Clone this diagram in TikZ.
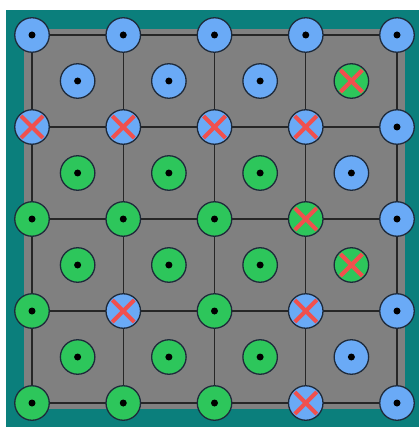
\documentclass[tikz,border=0pt]{standalone}
\usetikzlibrary{calc}
\definecolor{tealbg}{HTML}{0B7F7C}
\definecolor{graysq}{HTML}{808080}
\definecolor{bluec}{HTML}{6AAAF6}
\definecolor{greenc}{HTML}{2DC65B}
\definecolor{redx}{HTML}{F0504E}
\definecolor{outl}{HTML}{1E2A3A}
\tikzset{
  pt/.style={circle, draw=outl, line width=1.3pt, minimum size=34.5pt, inner sep=0pt},
  bluept/.style={pt, fill=bluec},
  greenpt/.style={pt, fill=greenc},
  gridline/.style={draw=black!85, line width=1.4pt},
  xmark/.style={draw=redx, line width=4.2pt},
  dotmark/.style={fill=black}
}
\begin{document}
\begin{tikzpicture}[x=1pt,y=-1pt]
\useasboundingbox (0,0) rectangle (419,427);
\fill[white] (0,0) rectangle (419,427);
\fill[tealbg] (6,10) rectangle (419,427);
\fill[graysq] (24,29) rectangle (405,409);
% grid coordinates
\foreach \c [count=\i from 0] in {32,123.25,214.5,305.75,397} {
  \foreach \r [count=\j from 0] in {35,127,219,311,403} {
    \coordinate (g\j\i) at (\c,\r);
  }
}
\foreach \j in {0,...,4} {
  \draw[gridline] (g\j0) -- (g\j4);
  \draw[gridline] (g0\j) -- (g4\j);
}
% grid-node points: row j, col i, colour, mark (d = dot, x = cross)
\foreach \j/\i/\col/\mk in {
  0/0/blue/d,0/1/blue/d,0/2/blue/d,0/3/blue/d,0/4/blue/d,
  1/0/blue/x,1/1/blue/x,1/2/blue/x,1/3/blue/x,1/4/blue/d,
  2/0/green/d,2/1/green/d,2/2/green/d,2/3/green/x,2/4/blue/d,
  3/0/green/d,3/1/blue/x,3/2/green/d,3/3/blue/x,3/4/blue/d,
  4/0/green/d,4/1/green/d,4/2/green/d,4/3/blue/x,4/4/blue/d} {
  \node[\col pt] (n\j\i) at (g\j\i) {};
  \if x\mk
    \draw[xmark] ([shift={(-11,-11)}]n\j\i.center) -- ([shift={(11,11)}]n\j\i.center);
    \draw[xmark] ([shift={(-11,11)}]n\j\i.center) -- ([shift={(11,-11)}]n\j\i.center);
  \else
    \fill[dotmark] (n\j\i.center) circle (3.5pt);
  \fi
}
% cell-centre points
\foreach \j/\i/\col/\mk in {
  0/0/blue/d,0/1/blue/d,0/2/blue/d,0/3/green/x,
  1/0/green/d,1/1/green/d,1/2/green/d,1/3/blue/d,
  2/0/green/d,2/1/green/d,2/2/green/d,2/3/green/x,
  3/0/green/d,3/1/green/d,3/2/green/d,3/3/blue/d} {
  \pgfmathtruncatemacro{\jn}{\j+1}
  \pgfmathtruncatemacro{\ii}{\i+1}
  \node[\col pt] (c\j\i) at ($(g\j\i)!0.5!(g\jn\ii)$) {};
  \if x\mk
    \draw[xmark] ([shift={(-11,-11)}]c\j\i.center) -- ([shift={(11,11)}]c\j\i.center);
    \draw[xmark] ([shift={(-11,11)}]c\j\i.center) -- ([shift={(11,-11)}]c\j\i.center);
  \else
    \fill[dotmark] (c\j\i.center) circle (3.5pt);
  \fi
}
\end{tikzpicture}
\end{document}
